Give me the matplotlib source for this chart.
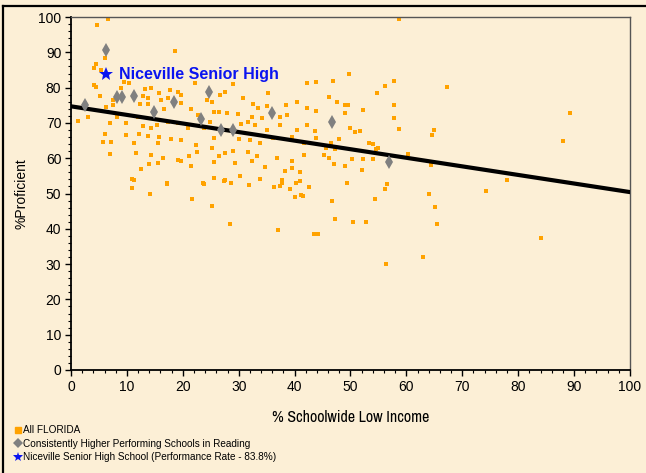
import matplotlib.pyplot as plt
from matplotlib import font_manager
from matplotlib.lines import Line2D
from matplotlib.ticker import MultipleLocator

# All FLORIDA schools (% low income, % proficient)
x_all = [6.6, 4.7, 18.6, 6.1, 4.5, 4.2, 5.4, 4.1, 4.5, 9.5, 10.4, 8.9, 13.2, 14.3, 15.8,
         17.7, 19.1, 19.7, 22.2, 5.1, 7.5, 12.8, 13.7, 16.1, 17.3, 19.7, 21.5, 6.3, 7.5,
         12.4, 13.7, 16.7, 22.7, 1.2, 7.0, 8.3, 9.8, 11.9, 12.8, 14.3, 15.4, 17.3, 19.1,
         21.0, 6.0, 9.8, 12.2, 13.7, 15.8, 17.9, 7.2, 11.3, 15.5, 19.7, 22.4, 11.6, 7.0,
         14.3, 16.4, 19.1, 15.5, 14.0, 21.5, 12.5, 19.7, 11.0, 17.2, 21.2, 22.5, 3.1, 5.8,
         29.0, 42.3, 43.9, 26.7, 27.6, 24.3, 25.2, 30.8, 32.6, 33.5, 35.0, 35.2, 38.5,
         40.4, 42.2, 43.9, 25.5, 26.5, 27.9, 29.8, 32.3, 34.1, 37.4, 38.6, 24.9, 30.4,
         31.7, 32.9, 35.0, 37.4, 40.4, 42.2, 43.7, 23.8, 25.5, 30.1, 32.0, 33.8, 36.2,
         39.5, 41.6, 43.9, 25.2, 26.4, 27.6, 29.0, 31.7, 33.2, 36.8, 39.5, 41.6, 45.3,
         25.5, 29.3, 32.3, 34.7, 38.3, 39.5, 41.0, 25.5, 27.6, 33.8, 37.7, 41.0, 30.2,
         23.6, 11.0, 17.1, 14.1, 21.6, 11.2, 23.8, 27.4, 28.7, 31.8, 36.3, 37.4, 37.8,
         40.3, 39.2, 41.1, 41.5, 40.1, 42.6, 25.3, 28.4, 37.1, 43.4, 44.2,
         49.7, 46.9, 57.7, 56.2, 54.8, 67.3, 46.2, 47.5, 49.0, 49.6, 52.2, 57.7, 49.1,
         57.8, 58.7, 49.9, 50.8, 51.7, 65.0, 64.5, 48.0, 46.5, 53.3, 54.1, 55.0, 54.6,
         47.2, 45.7, 60.2, 46.2, 50.3, 52.3, 54.1, 47.1, 49.1, 52.0, 64.4, 49.4, 56.6,
         56.2, 54.4, 64.0, 46.7, 65.1, 47.3, 50.5, 52.7, 65.4, 62.9, 56.4, 58.6, 49.7,
         89.2, 88.0, 74.2, 78.0, 84.0]
y_all = [99.3, 97.6, 90.4, 88.3, 86.6, 85.5, 85.0, 80.8, 80.3, 81.7, 81.2, 79.8, 79.6, 80.0, 78.4,
         79.4, 78.7, 77.9, 81.2, 77.5, 76.5, 77.5, 77.0, 76.5, 77.0, 75.6, 74.0, 74.6, 75.1,
         75.3, 75.3, 74.0, 72.3, 70.6, 69.9, 71.8, 69.9, 71.8, 69.2, 68.5, 69.4, 70.4, 69.9,
         68.5, 66.8, 66.6, 66.8, 66.4, 66.1, 65.5, 64.5, 64.2, 64.2, 65.2, 63.8, 61.4, 61.1,
         60.9, 60.2, 59.5, 58.6, 58.3, 57.9, 57.0, 59.1, 54.1, 52.9, 60.5, 61.9, 71.6, 64.5,
         81.0, 81.4, 81.7, 77.9, 78.7, 76.5, 75.9, 77.0, 75.3, 74.3, 74.9, 78.4, 75.1,
         75.9, 74.2, 73.4, 73.2, 73.0, 72.9, 72.6, 71.8, 71.3, 71.8, 72.3, 70.2, 69.6,
         70.4, 69.4, 68.0, 69.4, 68.0, 69.4, 67.6, 68.5, 65.8, 65.5, 65.2, 64.2, 65.7,
         66.1, 64.2, 65.7, 63.0, 60.5, 61.4, 62.1, 61.9, 60.5, 60.0, 59.1, 61.0, 61.0,
         58.9, 58.6, 59.1, 57.6, 56.4, 57.2, 56.2, 54.5, 53.8, 54.1, 53.9, 53.6, 55.1,
         52.9, 51.7, 52.7, 49.8, 48.5, 53.8, 52.7, 53.5, 52.9, 52.5, 51.9, 52.1, 53.1,
         53.1, 51.4, 49.6, 49.3, 48.9, 51.9, 46.4, 41.5, 39.8, 38.5, 38.5,
         83.8, 82.0, 81.8, 80.4, 78.5, 80.1, 77.4, 75.9, 75.0, 75.0, 73.6, 75.1, 72.7,
         71.5, 68.3, 68.6, 67.5, 67.8, 68.0, 66.7, 65.4, 64.4, 64.4, 63.9, 63.0, 62.5,
         62.5, 62.8, 61.2, 60.0, 59.8, 59.9, 59.9, 58.5, 57.8, 56.6, 58.2, 53.0, 52.7,
         51.2, 48.4, 49.8, 48.0, 46.2, 42.9, 41.8, 41.8, 41.3, 32.1, 29.9, 99.5, 84.0,
         72.7, 64.9, 50.8, 53.8, 37.4]

# Consistently Higher Performing Schools in Reading
x_hp = [2.5, 6.3, 8.3, 9.2, 11.3, 14.8, 18.4, 24.7, 23.3, 26.8, 29.0, 36.0, 46.7, 56.9]
y_hp = [75.1, 90.7, 77.4, 77.4, 77.7, 73.2, 75.9, 78.8, 71.1, 68.0, 68.0, 72.7, 70.2, 58.9]

# Niceville Senior High School
x_nsh = [6.3]
y_nsh = [83.8]

# trend line end points
trend_x = [0, 100]
trend_y = [74.7, 50.4]

# look for a narrow font for the x label, fall back to a small normal one
narrow = None
for f in font_manager.fontManager.ttflist:
    if 'Narrow' in f.name or 'Condensed' in f.name:
        narrow = f.name
        break
if narrow is None:
    for f in font_manager.fontManager.ttflist:
        if f.stretch in ('condensed', 'semi-condensed', 'extra-condensed') or \
                (isinstance(f.stretch, int) and f.stretch < 500):
            narrow = f.name
            break

bg = '#FCEFD6'
fig = plt.figure(figsize=(6.46, 4.73), dpi=100, facecolor=bg)
ax = fig.add_axes([0.1099, 0.2178, 0.8653, 0.7462], facecolor=bg)

ax.plot(x_all, y_all, 's', color='#FFA200', markersize=2.2, markeredgewidth=0, zorder=2)
ax.plot(trend_x, trend_y, color='black', linewidth=3, zorder=3)
ax.plot(x_hp, y_hp, 'd', color='#808080', markersize=7.5, markeredgewidth=0, zorder=4)
ax.plot(x_nsh, y_nsh, '*', color='#0A14F0', markersize=10, markeredgewidth=0, zorder=5)
ax.text(x_nsh[0] + 2.3, y_nsh[0], 'Niceville Senior High', color='#0A14F0',
        fontsize=11.5, fontweight='bold', family='Liberation Sans', va='center', zorder=6)

ax.set_xlim(0, 100)
ax.set_ylim(0, 100)
ax.xaxis.set_major_locator(MultipleLocator(10))
ax.yaxis.set_major_locator(MultipleLocator(10))
ax.xaxis.set_minor_locator(MultipleLocator(2))
ax.yaxis.set_minor_locator(MultipleLocator(2))
ax.tick_params(which='major', length=4, width=1, pad=3, labelsize=10)
ax.tick_params(which='minor', length=2, width=0.8)
for lab in ax.get_xticklabels() + ax.get_yticklabels():
    lab.set_family('Liberation Sans')

for s in ['left', 'bottom']:
    ax.spines[s].set_linewidth(1.3)
    ax.spines[s].set_color('black')
for s in ['top', 'right']:
    ax.spines[s].set_linewidth(1)
    ax.spines[s].set_color('#555555')

ax.set_ylabel('%Proficient', fontsize=10, family='Liberation Sans', labelpad=7)
if narrow:
    ax.set_xlabel('% Schoolwide Low Income', fontsize=11.5,
                  family=[narrow, 'DejaVu Sans'], labelpad=12)
else:
    ax.set_xlabel('% Schoolwide Low Income', fontsize=9,
                  family='Liberation Sans', labelpad=12)

# outer frame lines
fig.add_artist(Line2D([3 / 646, 1], [1 - 6 / 473, 1 - 6 / 473], color='black', linewidth=1.6))
fig.add_artist(Line2D([3 / 646, 3 / 646], [0, 1 - 6 / 473], color='black', linewidth=1.6))

# legend
handles = [
    Line2D([], [], marker='s', color='#FFA200', linestyle='none', markersize=4,
           markeredgecolor='#FFA200', markerfacecolor='#FFA200'),
    Line2D([], [], marker='D', color='#808080', linestyle='none', markersize=5, markeredgewidth=0),
    Line2D([], [], marker='*', color='#0A14F0', linestyle='none', markersize=7, markeredgewidth=0),
]
labels = ['All FLORIDA',
          'Consistently Higher Performing Schools in Reading',
          'Niceville Senior High School (Performance Rate - 83.8%)']
fig.legend(handles, labels, loc='lower left', bbox_to_anchor=(8 / 646, 4 / 473),
           frameon=False, handlelength=0.6, handletextpad=0.2, labelspacing=0.35,
           borderpad=0.2, prop={'family': 'Liberation Sans', 'size': 7.2})

fig.savefig('out.png', dpi=100, facecolor=bg)
